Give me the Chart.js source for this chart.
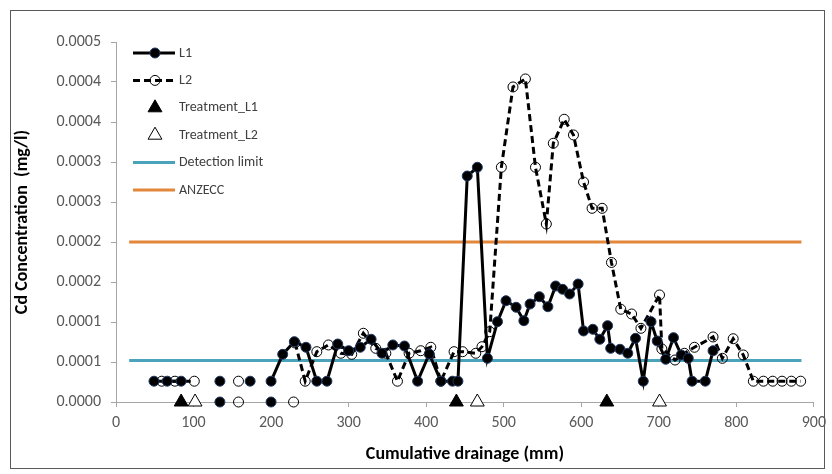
<!DOCTYPE html>
<html>
<head>
<meta charset="utf-8">
<script src="https://cdn.jsdelivr.net/npm/chart.js@4.4.0/dist/chart.umd.min.js"></script>
<style>
  html, body { margin: 0; padding: 0; background: #fff; }
  #wrap { position: relative; width: 832px; height: 474px; }
</style>
</head>
<body>
<div id="wrap"><canvas id="chart" width="832" height="474"></canvas></div>
<script>
// cumulative drainage (mm) and Cd (mg/l); null breaks the line
var l1Drainage = [49, 66, 84, 110, 134, 134, 134, 150, 173, 190, 200, 200, 200,
  215, 230, 245, 259, 272, 286, 300, 315, 329, 343, 357, 372, 389, 404, 419, 434, 441,
  453, 466, 479, 492, 503, 516, 526, 534, 546, 557, 567, 576, 585, 596, 603, 615, 624,
  634, 638, 650, 660, 670, 680, 690, 698, 709, 719, 729, 738, 743, 760, 770];
var l1Cd = [0.000026, 0.000026, 0.000026, null, 0.000026, null, 0, null, 0.000026, null, 0, null, 0.000026,
  0.0000596, 0.0000754, 0.0000684, 0.000026, 0.000026, 0.0000725, 0.0000641, 0.0000684, 0.0000784,
  0.0000609, 0.0000713, 0.00007, 0.000026, 0.00006, 0.000026, 0.000026, 0.000026,
  0.0002825, 0.0002934, 0.0000546, 0.0001004, 0.0001266, 0.0001184, 0.0001016, 0.0001225,
  0.0001316, 0.0001191, 0.000145, 0.0001409, 0.000135, 0.0001475, 0.0000888, 0.0000909,
  0.0000784, 0.0000954, 0.0000671, 0.0000659, 0.0000609, 0.0000796, 0.000026, 0.0001004,
  0.0000763, 0.0000534, 0.0000804, 0.0000588, 0.0000546, 0.000026, 0.000026, 0.0000641];

var l2Drainage = [59, 76, 101, 130, 158, 158, 158, 190, 229, 230,
  231, 244, 259, 274, 290, 304, 319, 335, 348, 363, 378, 393, 406, 419, 436, 447, 464,
  472, 482, 497, 512, 528, 541, 555, 564, 578, 590, 603, 614, 627, 639, 651, 665, 677,
  701, 704, 721, 733, 746, 770, 782, 796, 809, 822, 835, 847, 859, 871, 883];
var l2Cd = [0.000026, 0.000026, 0.000026, null, 0.000026, null, 0, null, 0, null,
  0.0000738, 0.000026, 0.0000629, 0.0000713, 0.0000609, 0.0000596, 0.0000859, 0.0000671,
  0.0000609, 0.000026, 0.0000609, 0.0000641, 0.0000684, 0.000026, 0.0000629, 0.0000629,
  0.0000609, 0.0000691, 0.0000879, 0.0002934, 0.0003938, 0.0004038, 0.0002934, 0.0002225,
  0.0003234, 0.0003534, 0.0003338, 0.000275, 0.0002421, 0.0002421, 0.0001744, 0.0001159,
  0.00011, 0.0000921, 0.0001338, 0.0000663, 0.0000525, 0.0000609, 0.0000684, 0.0000813,
  0.0000546, 0.0000791, 0.0000588, 0.000026, 0.000026, 0.000026, 0.000026, 0.000026, 0.000026];

var treatL1Drainage = [84, 439, 633];
var treatL2Drainage = [102, 466, 701];
var treatCd = [0, 0, 0];

var limitDrainage = [17, 884];
var detectionLimit = [0.000052, 0.000052];
var anzecc = [0.0002, 0.0002];

var yTicks = [0, 0.00005, 0.0001, 0.00015, 0.0002, 0.00025, 0.0003, 0.00035, 0.0004, 0.00045];
var yTickLabels = ['0.0000', '0.0001', '0.0001', '0.0002', '0.0002', '0.0003', '0.0003', '0.0004', '0.0004', '0.0005'];

var FONT = 'Carlito, Calibri, Lato, sans-serif';

function pts(xs, ys) {
  return xs.map(function (x, i) { return { x: x, y: ys[i] }; });
}

// legend drawn inside the plot, top-left, like the Excel original
var insideLegend = {
  id: 'insideLegend',
  afterDraw: function (chart) {
    var ctx = chart.ctx;
    chart.data.datasets.forEach(function (ds, i) {
      var y = 53 + i * 27.4;
      ctx.save();
      if (ds.showLine !== false) {
        ctx.strokeStyle = ds.borderColor;
        ctx.lineWidth = ds.borderWidth;
        ctx.setLineDash(ds.borderDash || []);
        ctx.beginPath();
        ctx.moveTo(133, y);
        ctx.lineTo(175, y);
        ctx.stroke();
        ctx.setLineDash([]);
      }
      if (ds.pointRadius > 0) {
        ctx.fillStyle = ds.pointBackgroundColor;
        ctx.strokeStyle = ds.pointBorderColor;
        ctx.lineWidth = ds.pointBorderWidth;
        Chart.helpers.drawPoint(ctx, {
          pointStyle: ds.pointStyle, radius: ds.pointRadius,
          borderWidth: ds.pointBorderWidth, rotation: 0
        }, 155, y);
      }
      ctx.fillStyle = '#404040';
      ctx.font = '14px ' + FONT;
      ctx.textBaseline = 'middle';
      ctx.fillText(ds.label, 179, y);
      ctx.restore();
    });
  }
};

var frame = {
  id: 'frame',
  afterDraw: function (chart) {
    var ctx = chart.ctx;
    ctx.save();
    ctx.strokeStyle = '#595959';
    ctx.lineWidth = 1;
    ctx.strokeRect(10.5, 10.5, 814, 458);
    ctx.restore();
  }
};

new Chart(document.getElementById('chart'), {
  type: 'line',
  data: {
    datasets: [
      {
        label: 'L1', data: pts(l1Drainage, l1Cd),
        borderColor: '#000', borderWidth: 3, spanGaps: false,
        pointStyle: 'circle', pointRadius: 5,
        pointBackgroundColor: '#000', pointBorderColor: '#1f3864', pointBorderWidth: 1,
        clip: false
      },
      {
        label: 'L2', data: pts(l2Drainage, l2Cd),
        borderColor: '#000', borderWidth: 3, borderDash: [7, 4], spanGaps: false,
        pointStyle: 'circle', pointRadius: 5,
        pointBackgroundColor: 'rgba(255,255,255,0)', pointBorderColor: '#000', pointBorderWidth: 1,
        clip: false
      },
      {
        label: 'Treatment_L1', data: pts(treatL1Drainage, treatCd),
        showLine: false, borderColor: '#000', borderWidth: 0,
        pointStyle: 'triangle', pointRadius: 8,
        pointBackgroundColor: '#000', pointBorderColor: '#000', pointBorderWidth: 1,
        clip: false
      },
      {
        label: 'Treatment_L2', data: pts(treatL2Drainage, treatCd),
        showLine: false, borderColor: '#000', borderWidth: 0,
        pointStyle: 'triangle', pointRadius: 8,
        pointBackgroundColor: '#fff', pointBorderColor: '#000', pointBorderWidth: 1,
        clip: false
      },
      {
        label: 'Detection limit', data: pts(limitDrainage, detectionLimit),
        borderColor: '#4aa3bb', borderWidth: 3, pointRadius: 0
      },
      {
        label: 'ANZECC', data: pts(limitDrainage, anzecc),
        borderColor: '#e3873b', borderWidth: 3, pointRadius: 0
      }
    ]
  },
  options: {
    responsive: false,
    animation: false,
    devicePixelRatio: 1,
    layout: { padding: { left: 8, right: 16, top: 42, bottom: 5 } },
    plugins: { legend: { display: false }, tooltip: { enabled: false } },
    elements: { line: { tension: 0 } },
    scales: {
      x: {
        type: 'linear', min: 0, max: 900,
        ticks: { stepSize: 100, padding: 6, color: '#595959', font: { family: FONT, size: 16 } },
        grid: { drawOnChartArea: false, drawTicks: true, tickLength: 5, color: '#a6a6a6' },
        border: { color: '#a6a6a6' },
        title: { display: true, text: 'Cumulative drainage (mm)', color: '#000',
          font: { family: FONT, size: 18, weight: 'bold' }, padding: { top: 4, bottom: 4 } },
        afterFit: function (scale) { scale.height = 474 - 402 - 5; }
      },
      y: {
        type: 'linear', min: 0, max: 0.00045,
        afterBuildTicks: function (scale) {
          scale.ticks = yTicks.map(function (v) { return { value: v }; });
        },
        ticks: {
          padding: 10, color: '#595959', font: { family: FONT, size: 16 },
          callback: function (value, index) { return yTickLabels[index]; }
        },
        grid: { drawOnChartArea: false, drawTicks: true, tickLength: 5, color: '#a6a6a6' },
        border: { color: '#a6a6a6' },
        title: { display: true, text: 'Cd Concentration  (mg/l)', color: '#000',
          font: { family: FONT, size: 18, weight: 'bold' }, padding: { top: 4, bottom: 4 } },
        afterFit: function (scale) { scale.width = 116 - 8; }
      }
    }
  },
  plugins: [insideLegend, frame]
});
</script>
</body>
</html>
